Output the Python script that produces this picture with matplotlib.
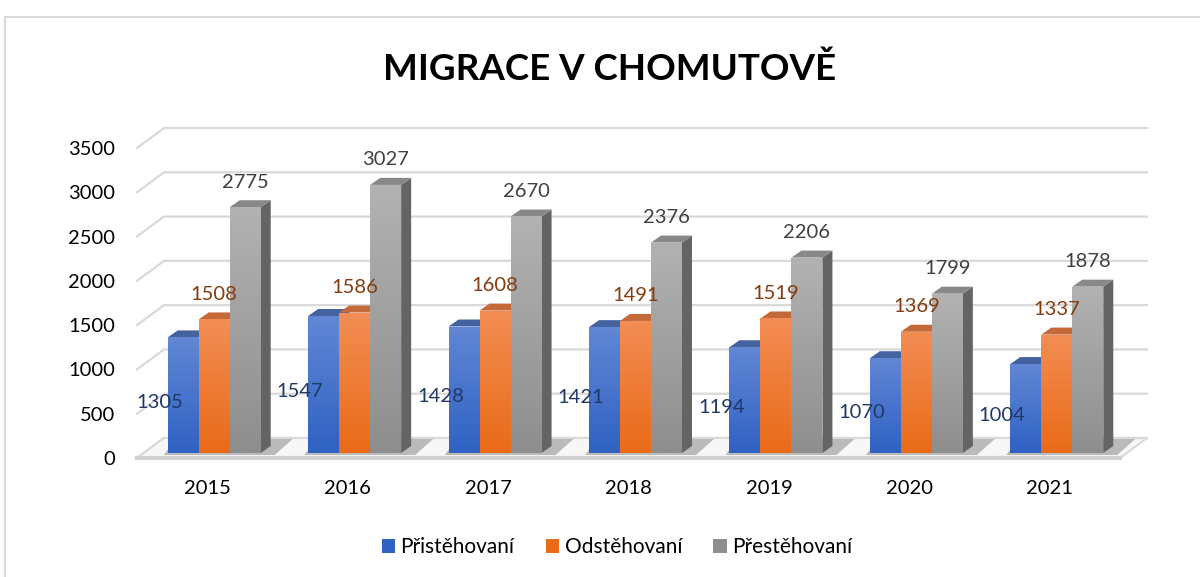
import numpy as np
import matplotlib
matplotlib.use("Agg")
import matplotlib.pyplot as plt
from matplotlib.patches import Polygon, Rectangle
from matplotlib.colors import to_rgb

years = ["2015", "2016", "2017", "2018", "2019", "2020", "2021"]
pristehovani = [1305, 1547, 1428, 1421, 1194, 1070, 1004]
odstehovani = [1508, 1586, 1608, 1491, 1519, 1369, 1337]
prestehovani = [2775, 3027, 2670, 2376, 2206, 1799, 1878]
series_names = ["Přistěhovaní", "Odstěhovaní", "Přestěhovaní"]

plt.rcParams['font.family'] = ['Lato', 'DejaVu Sans']

W, H = 1200, 577
fig = plt.figure(figsize=(W / 100, H / 100), dpi=100)
ax_box = [137 / W, 119 / H, 983 / W, 310 / H]
ax = fig.add_axes(ax_box)
ymax = 3500
ax.set_xlim(-0.5, len(years) - 0.5)
ax.set_ylim(0, ymax)

ax_w = ax_box[2] * W
ax_h = ax_box[3] * H
def px_x(p):
    return p * len(years) / ax_w
def px_y(p):
    return p * ymax / ax_h

# 3d-ish geometry (pixels)
wall_dx, wall_dy = px_x(27), px_y(20)
front_dx, front_dy = px_x(7), px_y(5)
side_dx, side_dy = px_x(10), px_y(7)

for s in ax.spines.values():
    s.set_visible(False)
ax.set_facecolor("none")

# gridlines: slanted left wall + back wall
ticks = np.arange(0, ymax + 1, 500)
x0, x1 = -0.5, len(years) - 0.5
for t in ticks:
    ax.plot([x0, x0 + wall_dx, x1 + wall_dx], [t, t + wall_dy, t + wall_dy],
            color="#D9D9D9", lw=1.6, clip_on=False, zorder=1)

# floor
floor = Polygon([[x0, 0], [x1, 0], [x1 + wall_dx, wall_dy], [x0 + wall_dx, wall_dy]],
                closed=True, facecolor="#F7F7F7", edgecolor="#D9D9D9", lw=1.5,
                clip_on=False, zorder=2)
ax.add_patch(floor)
ax.plot([x0, x1], [0, 0], color="#D0D0D0", lw=3, clip_on=False, zorder=2)

ax.set_yticks(ticks)
ax.set_yticklabels([str(t) for t in ticks])
ax.set_xticks(range(len(years)))
ax.set_xticklabels(years)
ax.tick_params(axis="y", length=0, pad=16, labelsize=14.5, labelcolor="#000000")
ax.tick_params(axis="x", length=0, pad=16, labelsize=14.5, labelcolor="#000000")

data = [pristehovani, odstehovani, prestehovani]
grad_top = ["#6187D5", "#F38D54", "#B2B2B2"]
grad_bot = ["#2F62C3", "#E96B18", "#8E8E8E"]
top_cols = ["#44629F", "#C46A3A", "#888888"]
side_cols = ["#34569A", "#B55A1E", "#646464"]
label_cols = ["#203864", "#843C0C", "#404040"]

bw = px_x(31)
xs = np.arange(len(years))
handles = []
z = 5

for i in range(len(years)):
    # shadow on floor behind the group
    gl = xs[i] - 1.5 * bw + front_dx
    gr = xs[i] + 1.5 * bw + front_dx + side_dx
    sh = Polygon([[gl - px_x(4), front_dy * 0.6], [gr + px_x(4), front_dy * 0.6],
                  [gr + px_x(22), front_dy + px_y(14)], [gl + px_x(8), front_dy + px_y(14)]],
                 closed=True, facecolor="#303030", alpha=0.3, edgecolor="none",
                 clip_on=False, zorder=3)
    ax.add_patch(sh)
    for k in range(3):
        v = data[k][i]
        left = xs[i] + (k - 1.5) * bw + front_dx
        right = left + bw
        bot = front_dy
        top = front_dy + v
        side = Polygon([[right, bot], [right, top], [right + side_dx, top + side_dy],
                        [right + side_dx, bot + side_dy]], closed=True,
                       facecolor=side_cols[k], edgecolor="none", zorder=z, clip_on=False)
        ax.add_patch(side)
        tp = Polygon([[left, top], [right, top], [right + side_dx, top + side_dy],
                      [left + side_dx, top + side_dy]], closed=True,
                     facecolor=top_cols[k], edgecolor="none", zorder=z, clip_on=False)
        ax.add_patch(tp)
        z += 1
        b = ax.bar(left, v, width=bw, bottom=bot, align="edge", color=grad_bot[k],
                   edgecolor="none", zorder=z, label=series_names[k] if i == 0 else None)
        if i == 0:
            handles.append(b)
        z += 1
        c0 = np.array(to_rgb(grad_top[k]))
        c1 = np.array(to_rgb(grad_bot[k]))
        t = np.linspace(0, 1, 64)[:, None]
        img = (c0 * (1 - t) + c1 * t)[:, None, :]
        im = ax.imshow(img, extent=[left, right, bot, top], aspect="auto",
                       origin="upper", zorder=z, interpolation="bilinear")
        im.set_clip_path(b.patches[0])
        z += 1

    # labels
    for k in range(3):
        v = data[k][i]
        left = xs[i] + (k - 1.5) * bw + front_dx
        if k == 0:
            ax.text(left - px_x(8), v / 2 - px_y(2), str(v), ha="center", va="center",
                    fontsize=14.5, color=label_cols[k], zorder=200)
        else:
            ax.text(left + bw / 2, front_dy + v + px_y(25), str(v), ha="center",
                    va="center", fontsize=14.5, color=label_cols[k], zorder=200)

ax.set_xlim(-0.5, len(years) - 0.5)
ax.set_ylim(0, ymax)

fig.text(610 / W, 1 - 69 / H, "MIGRACE V CHOMUTOVĚ", ha="center", va="center",
         fontsize=26.5, fontweight="bold", color="#000000")

fig.legend(handles=handles, labels=series_names, loc="center", bbox_to_anchor=(617 / W, 30 / H),
           ncol=3, frameon=False, fontsize=15, handlelength=0.65, handleheight=0.65,
           handletextpad=0.25, columnspacing=1.5)

fig.patches.append(Rectangle((5 / W, -0.1), 1.2, 1 - 17 / H + 0.1, transform=fig.transFigure,
                             fill=False, edgecolor="#D9D9D9", lw=1.5))

fig.savefig("out.png", dpi=100)
